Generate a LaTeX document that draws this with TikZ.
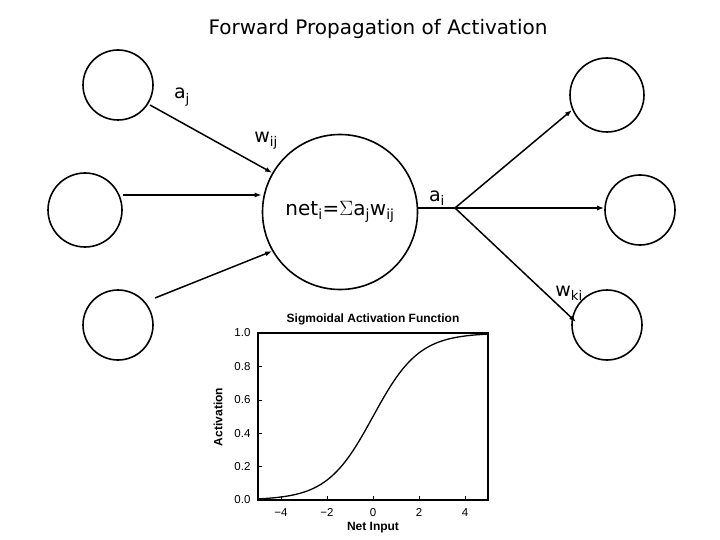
\documentclass[tikz,border=0pt]{standalone}
\usepackage{fontspec}
\setmainfont{DejaVu Sans}
\newfontfamily\plotfont{Liberation Sans}
\usetikzlibrary{arrows.meta}
\begin{document}
\begin{tikzpicture}[x=1pt,y=-1pt,
  unit/.style={draw,line width=1.6pt,circle,minimum size=70pt,inner sep=0pt},
  conn/.style={line width=1.5pt,-{Latex[length=7pt,width=5pt]}},
  lab/.style={font=\fontsize{19}{22}\selectfont},
  tl/.style={font=\plotfont\fontsize{11.5}{13}\selectfont}]
\useasboundingbox (0,0) rectangle (720,540);
\node[font=\fontsize{20}{24}\selectfont] (title) at (378,29) {Forward Propagation of Activation};
\node[unit] (i1) at (118,85) {};
\node[unit,minimum size=74pt] (i2) at (85,210) {};
\node[unit] (i3) at (118,325) {};
\node[unit,minimum size=155pt,font=\fontsize{20}{24}\selectfont] (c) at (340,212) {net$_{\mathrm{i}}$=$\Sigma$a$_{\mathrm{j}}$w$_{\mathrm{ij}}$};
\node[unit,minimum size=74pt] (o1) at (607,95) {};
\node[unit] (o2) at (640,210) {};
\node[unit] (o3) at (607,325) {};
\coordinate (b) at (455,208);
\draw[conn] (150,105) -- (c.150);
\draw[conn] (i2.east |- 0,195) -- (c.west |- 0,195);
\draw[conn] (155,298) -- (c.210);
\draw[line width=1.5pt] (c.east |- b) -- (b);
\draw[conn] (b) -- (572,110);
\draw[conn] (b) -- (o2.west |- b);
\draw[conn] (b) -- (576,322);
\node[lab] (aj) at (182,97) {a$_{\mathrm{j}}$};
\node[lab] (wij) at (266,141) {w$_{\mathrm{ij}}$};
\node[lab] (ai) at (437,198) {a$_{\mathrm{i}}$};
\node[lab] (wki) at (569,293) {w$_{\mathrm{ki}}$};
% plot
\node[font=\plotfont\bfseries\fontsize{12}{14}\selectfont] (pt) at (373,319) {Sigmoidal Activation Function};
\draw[line width=1.6pt] (258,333) rectangle (488,500);
\foreach \v/\l in {0/0.0,0.2/0.2,0.4/0.4,0.6/0.6,0.8/0.8,1/1.0}{
  \node[tl,anchor=east] at (254,{500-167*\v}) {\l};
  \draw (258,{500-167*\v}) -- (262,{500-167*\v});}
\foreach \v/\l in {-4/{\char"2212}4,-2/{\char"2212}2,0/0,2/2,4/4}{
  \node[tl,anchor=base] at ({373+23*\v},516) {\l};
  \draw ({373+23*\v},500) -- ({373+23*\v},496);}
\node[font=\plotfont\bfseries\fontsize{12}{14}\selectfont] (px) at (373,528) {Net Input};
\node[font=\plotfont\bfseries\fontsize{12}{14}\selectfont,rotate=90] (py) at (218,417) {Activation};
\draw[line width=1.3pt] plot[domain=-5:5,samples=80,smooth] ({373+23*\x},{500-167/(1+exp(-\x))});
\end{tikzpicture}
\end{document}
